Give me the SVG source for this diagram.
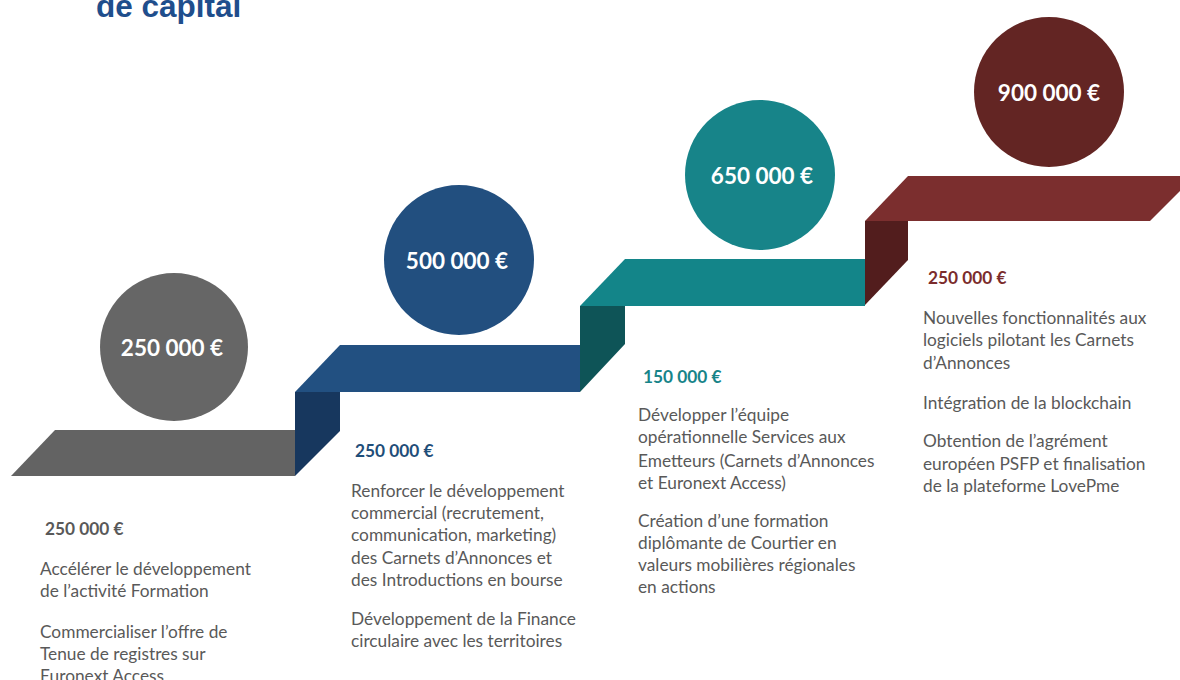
<svg xmlns="http://www.w3.org/2000/svg" width="1180" height="680" viewBox="0 0 1180 680">
<style>
.title{font-family:"Liberation Sans",Arial,sans-serif;font-weight:bold;font-size:31.5px;fill:#1f4e8c}
.amt{font-family:Lato,"Open Sans",sans-serif;font-weight:bold;font-size:22.5px;fill:#ffffff;text-anchor:middle;dominant-baseline:central}
.sub{font-family:Lato,"Open Sans",sans-serif;font-weight:bold;font-size:17.3px}
.body{font-family:Lato,"Open Sans",sans-serif;font-size:17.3px;fill:#595959}
</style>
<rect width="1180" height="680" fill="#ffffff"/>
<text class="title" x="96" y="17">de capital</text>

<g id="connectors"></g>

<g id="step1">
<polygon points="55,430 295,430 295,476 11,476" fill="#636363"/>
<circle cx="174" cy="347" r="74" fill="#666666"/>
<text class="amt" x="172" y="347">250 000 €</text>
</g>

<g id="step2">
<polygon points="295,392 340,392 340,431 295,476" fill="#17375e"/>
<polygon points="340,345 580,345 580,392 295,392" fill="#225081"/>
<circle cx="459" cy="260" r="75" fill="#224f7f"/>
<text class="amt" x="457" y="260">500 000 €</text>
</g>

<g id="step3">
<polygon points="580,306 625,306 625,344 580,392" fill="#0e5457"/>
<polygon points="625,259 865,259 865,306 580,306" fill="#138589"/>
<circle cx="760" cy="175" r="75" fill="#178489"/>
<text class="amt" x="762" y="175">650 000 €</text>
</g>

<g id="step4">
<polygon points="865,221 908,221 908,260 865,305" fill="#521d1d"/>
<polygon points="908,176 1195,176 1150,221 865,221" fill="#7b2e2e"/>
<circle cx="1049" cy="92" r="75" fill="#632523"/>
<text class="amt" x="1049" y="92">900 000 €</text>
</g>

<g id="text1">
<text class="sub" x="45" y="535" fill="#595959">250 000 €</text>
<text class="body" x="40"><tspan x="40" y="575">Accélérer le développement</tspan><tspan x="40" y="597">de l’activité Formation</tspan><tspan x="40" y="638">Commercialiser l’offre de</tspan><tspan x="40" y="660">Tenue de registres sur</tspan><tspan x="40" y="682">Euronext Access</tspan></text>
</g>

<g id="text2">
<text class="sub" x="355" y="457" fill="#1f4e79">250 000 €</text>
<text class="body"><tspan x="351" y="497">Renforcer le développement</tspan><tspan x="351" y="519">commercial (recrutement,</tspan><tspan x="351" y="541">communication, marketing)</tspan><tspan x="351" y="564">des Carnets d’Annonces et</tspan><tspan x="351" y="586">des Introductions en bourse</tspan><tspan x="351" y="625">Développement de la Finance</tspan><tspan x="351" y="647">circulaire avec les territoires</tspan></text>
</g>

<g id="text3">
<text class="sub" x="643" y="383" fill="#178489">150 000 €</text>
<text class="body"><tspan x="638" y="421">Développer l’équipe</tspan><tspan x="638" y="443">opérationnelle Services aux</tspan><tspan x="638" y="467">Emetteurs (Carnets d’Annonces</tspan><tspan x="638" y="489">et Euronext Access)</tspan><tspan x="638" y="527">Création d’une formation</tspan><tspan x="638" y="549">diplômante de Courtier  en</tspan><tspan x="638" y="571">valeurs mobilières régionales</tspan><tspan x="638" y="593">en actions</tspan></text>
</g>

<g id="text4">
<text class="sub" x="928" y="284" fill="#7b2c2c">250 000 €</text>
<text class="body"><tspan x="923" y="324">Nouvelles fonctionnalités aux</tspan><tspan x="923" y="346">logiciels pilotant les Carnets</tspan><tspan x="923" y="369">d’Annonces</tspan><tspan x="923" y="409">Intégration de la blockchain</tspan><tspan x="923" y="447">Obtention de l’agrément</tspan><tspan x="923" y="470">européen PSFP et finalisation</tspan><tspan x="923" y="492">de la plateforme LovePme</tspan></text>
</g>
</svg>
